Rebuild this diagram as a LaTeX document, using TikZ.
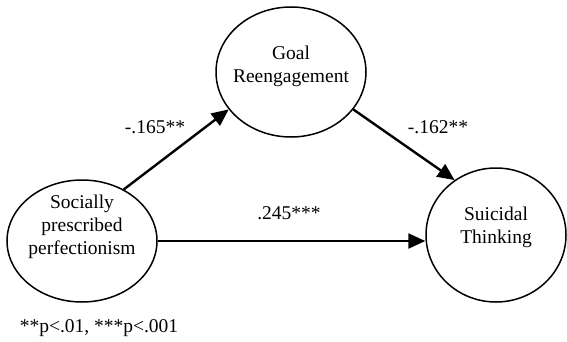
\documentclass[tikz,border=0pt]{standalone}
\usepackage{fontspec}
\setmainfont{Liberation Serif}
\usetikzlibrary{shapes.geometric,arrows.meta}
\begin{document}
\begin{tikzpicture}[x=1pt,y=-1pt,
  ell/.style={draw,ellipse,line width=1.5pt,inner sep=0pt},
  txt/.style={align=center,font=\fontsize{19.5}{23}\selectfont},
  lab/.style={font=\fontsize{19.5}{23}\selectfont},
  conn/.style={line width=2.4pt,-{Triangle[length=17pt,width=15pt]}}]
\useasboundingbox (0,0) rectangle (567,342);
\node[ell,minimum width=150pt,minimum height=130pt] (g) at (291,72) {};
\node[ell,minimum width=150pt,minimum height=122pt] (s) at (82,241) {};
\node[ell,minimum width=140pt,minimum height=134pt] (t) at (496,235) {};
\node[txt] (gt) at ([yshift=6pt]g.center) {Goal\\Reengagement};
\node[txt] (st) at ([yshift=14pt]s.center) {Socially\\prescribed\\perfectionism};
\node[txt] (tt) at ([yshift=8pt]t.center) {Suicidal\\Thinking};
\draw[conn] (s.51) -- (g.211);
\draw[conn] (g.-31.5) -- (t.127);
\draw[conn] (s.east) -- (s.east -| t.west);
\node[lab] (l1) at (155,127) {-.165**};
\node[lab] (l2) at (438,127) {-.162**};
\node[lab] (l3) at (289,213) {.245***};
\node[lab] (fn) at (99,328) {**p<.01, ***p<.001};
\end{tikzpicture}
\end{document}
